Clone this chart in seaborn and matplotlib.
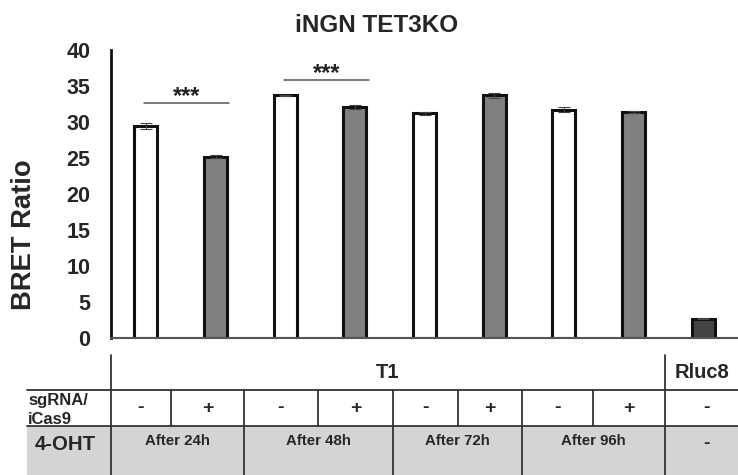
import matplotlib
matplotlib.use("Agg")
import matplotlib.pyplot as plt
import seaborn as sns
import pandas as pd

# ---- data ----
conditions = ["24h -", "24h +", "48h -", "48h +", "72h -", "72h +", "96h -", "96h +", "Rluc8 -"]
bret_ratio = [29.4, 25.2, 33.7, 32.1, 31.2, 33.7, 31.7, 31.4, 2.7]
bret_err = [0.40, 0.15, 0.10, 0.25, 0.20, 0.30, 0.35, 0.15, 0.10]
sgrna_icas9 = ["-", "+", "-", "+", "-", "+", "-", "+", "-"]
oht_groups = ["After 24h", "After 48h", "After 72h", "After 96h", "-"]
construct_groups = ["T1", "Rluc8"]
y_ticks = [0, 5, 10, 15, 20, 25, 30, 35, 40]
# significance brackets: (left bar, right bar, label)
significance = [(0, 1, "***"), (2, 3, "***")]

bar_colors = ["white", "#808080", "white", "#808080", "white", "#808080",
              "white", "#808080", "#444444"]

sns.set_theme(style="white")
plt.rcParams["font.family"] = ["Liberation Sans", "DejaVu Sans"]
plt.rcParams["font.weight"] = "bold"

W, H = 738, 475
fig = plt.figure(figsize=(W / 100, H / 100), dpi=100)

def fx(px):
    return px / W

def fy(py):
    return 1 - py / H

# ---- bar chart ----
ax = fig.add_axes([fx(111), fy(338), fx(738 - 111), (338 - 50) / H])
df = pd.DataFrame({"cond": conditions, "ratio": bret_ratio})
sns.barplot(data=df, x="cond", y="ratio", hue="cond", palette=bar_colors,
            order=conditions, hue_order=conditions, legend=False,
            width=0.33, edgecolor="#111111", linewidth=2.2, errorbar=None, ax=ax)
ax.errorbar(range(len(conditions)), bret_ratio, yerr=bret_err, fmt="none",
            ecolor="#444444", elinewidth=0.8, capsize=4, capthick=0.8)

ax.set_xlim(-0.5, len(conditions) - 0.5)
ax.set_ylim(0, 40)
ax.set_yticks(y_ticks)
ax.set_yticklabels([str(t) for t in y_ticks], fontsize=15.5, fontweight="bold")
ax.tick_params(axis="y", length=0, pad=15)
ax.set_xticks([])
ax.set_xlabel("")
ax.set_ylabel("")
for side in ["top", "right"]:
    ax.spines[side].set_visible(False)
ax.spines["left"].set_color("#111111")
ax.spines["left"].set_linewidth(2)
ax.spines["bottom"].set_color("#555555")
ax.spines["bottom"].set_linewidth(1.5)

for i, j, label in significance:
    top = max(bret_ratio[i], bret_ratio[j]) + bret_err[i]
    ly = top + 2.9 if i == 0 else top + 2.1
    ax.plot([i - 0.02, j + 0.2], [ly, ly], color="#555555", lw=1.1)
    ax.text((i + j + 0.18) / 2, ly - 0.75, label, ha="center", va="bottom",
            fontsize=17, fontweight="bold", color="#222222")

fig.text(fx(377), fy(25), "iNGN TET3KO", ha="center", va="center",
         fontsize=17.5, fontweight="bold")
fig.text(fx(24), fy(235), "BRET Ratio", ha="center", va="center",
         rotation=90, fontsize=19.7, fontweight="bold")

# ---- condition table below the bars ----
tx = fig.add_axes([0, 0, 1, 1], zorder=-1)
tx.set_xlim(0, W)
tx.set_ylim(H, 0)
tx.axis("off")

line_kw = dict(color="#333333", lw=1.3)
row_top, row1, row2, row_bot = 355, 390, 426, 475
tx.fill_between([27, W], row2, row_bot, color="#d4d4d4", lw=0)
tx.plot([27, W], [row1, row1], **line_kw)
tx.plot([27, W], [row2, row2], **line_kw)
tx.plot([111, 111], [row_top, row_bot], **line_kw)
tx.plot([665, 665], [row_top, row_bot], **line_kw)

group_edges = [111, 244, 393, 522, 665, 738]
sub_edges = [171, 318, 458, 593]
for gx in group_edges[1:4]:
    tx.plot([gx, gx], [row1, row_bot], **line_kw)
for sx in sub_edges:
    tx.plot([sx, sx], [row1, row2], **line_kw)

cell_edges = sorted(group_edges[:-1] + sub_edges) + [738]
for k, sign in enumerate(sgrna_icas9):
    cx = (cell_edges[k] + cell_edges[k + 1]) / 2
    if k == len(sgrna_icas9) - 1:
        cx += 5
    tx.text(cx, 408, sign, ha="center", va="center", fontsize=14, fontweight="bold")

for k, label in enumerate(oht_groups):
    cx = (group_edges[k] + group_edges[k + 1]) / 2
    if label == "-":
        tx.text(cx + 5, 444, label, ha="center", va="center", fontsize=14, fontweight="bold")
    else:
        tx.text(cx, 441, label, ha="center", va="center", fontsize=10.8, fontweight="bold")

tx.text(388, 372, construct_groups[0], ha="center", va="center", fontsize=14.5, fontweight="bold")
tx.text(702, 372, construct_groups[1], ha="center", va="center", fontsize=14.5, fontweight="bold")

tx.text(28, 400, "sgRNA/", ha="left", va="center", fontsize=12, fontweight="bold")
tx.text(28, 419, "iCas9", ha="left", va="center", fontsize=12, fontweight="bold")
tx.text(35, 444, "4-OHT", ha="left", va="center", fontsize=14.7, fontweight="bold")

fig.savefig("out.png", dpi=100)
